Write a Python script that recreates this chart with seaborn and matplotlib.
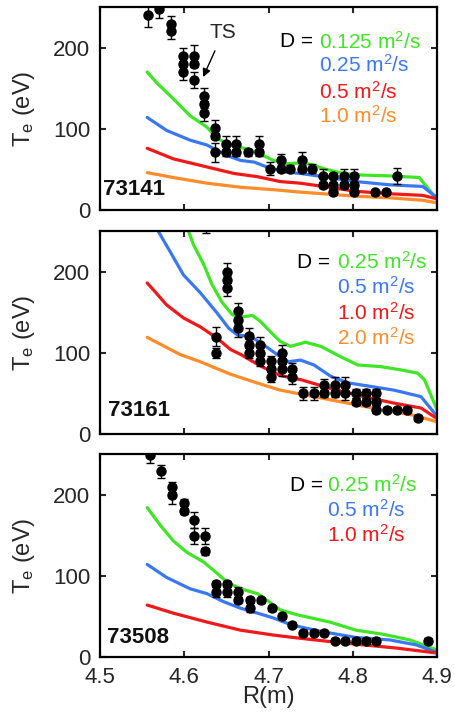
import numpy as np
import pandas as pd
import seaborn as sns
import matplotlib
matplotlib.use("Agg")
import matplotlib.pyplot as plt

sns.set_style("ticks")
plt.rcParams['font.family'] = ['Liberation Sans', 'DejaVu Sans']
plt.rcParams['mathtext.fontset'] = 'custom'
plt.rcParams['mathtext.rm'] = 'Liberation Sans'
plt.rcParams['mathtext.it'] = 'Liberation Sans'

GREEN = '#3fe625'
BLUE = '#3a78f2'
RED = '#f01818'
ORANGE = '#ff8c2a'

# ---------------- Panel 1 : shot 73141 ----------------
shot1 = "73141"
p1_R = [4.557, 4.570, 4.584, 4.584, 4.598, 4.598, 4.598, 4.611, 4.611, 4.611,
        4.624, 4.624, 4.624, 4.637, 4.637, 4.637, 4.650, 4.650, 4.662, 4.662,
        4.676, 4.689, 4.689, 4.702, 4.715, 4.715, 4.726, 4.740, 4.740, 4.752,
        4.765, 4.765, 4.777, 4.777, 4.777, 4.790, 4.790, 4.802, 4.802, 4.802,
        4.827, 4.839, 4.852]
p1_T = [240, 248, 229, 220, 190, 180, 170, 190, 180, 160,
        140, 130, 120, 101, 91, 71, 81, 71, 81, 71,
        71, 81, 71, 51, 61, 51, 51, 61, 51, 51,
        42, 31, 42, 31, 22, 42, 31, 42, 31, 22,
        22, 22, 42]
p1_err = [15, 12, 10, 10, 10, 4, 10, 13, 4, 10,
          10, 4, 10, 10, 4, 12, 10, 4, 10, 4,
          4, 10, 4, 8, 8, 4, 4, 10, 4, 6,
          8, 4, 4, 4, 4, 8, 4, 8, 4, 4,
          3, 3, 10]

p1_curve_R = {
    "0.125": [4.556, 4.567, 4.587, 4.607, 4.627, 4.639, 4.655, 4.679, 4.694, 4.706,
              4.722, 4.738, 4.752, 4.765, 4.789, 4.812, 4.844, 4.879, 4.899],
    "0.25": [4.556, 4.579, 4.607, 4.627, 4.651, 4.667, 4.683, 4.698, 4.718, 4.738,
             4.765, 4.804, 4.844, 4.883, 4.899],
    "0.5": [4.556, 4.587, 4.627, 4.659, 4.687, 4.714, 4.738, 4.765, 4.804, 4.844,
            4.883, 4.899],
    "1.0": [4.556, 4.587, 4.627, 4.667, 4.706, 4.738, 4.765, 4.804, 4.844, 4.883,
            4.899],
}
p1_curve_T = {
    "0.125": [170, 157, 137, 116, 102, 88, 80, 74, 67, 61,
              57, 58, 56, 51, 45, 43, 42, 40, 14],
    "0.25": [114, 98, 86, 80, 67, 61, 59, 53, 47, 45,
             41, 35, 31, 29, 16],
    "0.5": [76, 63, 53, 45, 41, 35, 33, 29, 23, 20,
            18, 14],
    "1.0": [46, 40, 33, 28, 25, 22, 20, 17, 15, 12, 9],
}
p1_labels = ["0.125", "0.25", "0.5", "1.0"]
p1_colors = [GREEN, BLUE, RED, ORANGE]

# ---------------- Panel 2 : shot 73161 ----------------
shot2 = "73161"
p2_R = [4.626, 4.638, 4.638, 4.651, 4.651, 4.651, 4.664, 4.664, 4.664,
        4.677, 4.677, 4.677, 4.690, 4.690, 4.690, 4.703, 4.703, 4.703,
        4.716, 4.716, 4.716, 4.728, 4.728, 4.741, 4.754, 4.766, 4.766,
        4.779, 4.779, 4.791, 4.791, 4.804, 4.804, 4.816, 4.816,
        4.828, 4.828, 4.828, 4.841, 4.853, 4.864, 4.877]
p2_T = [262, 120, 100, 200, 190, 180, 151, 140, 130,
        121, 110, 100, 110, 100, 90, 90, 80, 70,
        100, 90, 80, 80, 70, 50, 50, 60, 50,
        60, 50, 60, 50, 50, 40, 50, 40,
        50, 40, 30, 30, 30, 30, 20]
p2_err = [14, 12, 6, 10, 4, 10, 10, 4, 10,
          10, 4, 6, 10, 4, 6, 6, 4, 6,
          10, 4, 8, 8, 8, 8, 8, 8, 4,
          10, 4, 10, 8, 6, 4, 6, 4,
          6, 4, 4, 3, 3, 3, 4]

p2_curve_R = {
    "0.25": [4.605, 4.611, 4.623, 4.633, 4.645, 4.657, 4.667, 4.681, 4.690, 4.706,
             4.714, 4.726, 4.744, 4.762, 4.786, 4.806, 4.833, 4.857, 4.877, 4.885,
             4.900],
    "0.5": [4.569, 4.583, 4.599, 4.619, 4.639, 4.653, 4.663, 4.679, 4.694, 4.710,
            4.724, 4.738, 4.754, 4.774, 4.794, 4.825, 4.849, 4.881, 4.900],
    "1.0": [4.556, 4.563, 4.579, 4.599, 4.619, 4.639, 4.655, 4.667, 4.690, 4.714,
            4.738, 4.774, 4.813, 4.849, 4.881, 4.900],
    "2.0": [4.556, 4.595, 4.619, 4.654, 4.686, 4.714, 4.754, 4.794, 4.833, 4.873,
            4.900],
}
p2_curve_T = {
    "0.25": [250, 233, 209, 184, 162, 147, 144, 146, 139, 122,
             114, 108, 113, 108, 95, 85, 83, 79, 75, 67,
             30],
    "0.5": [250, 225, 196, 174, 149, 130, 122, 120, 110, 98,
            89, 91, 85, 71, 63, 58, 54, 46, 22],
    "1.0": [186, 178, 159, 143, 132, 118, 104, 98, 84, 72,
            67, 56, 46, 38, 32, 19],
    "2.0": [119, 98, 89, 74, 63, 54, 46, 38, 30, 23,
            15],
}
p2_labels = ["0.25", "0.5", "1.0", "2.0"]
p2_colors = [GREEN, BLUE, RED, ORANGE]

# ---------------- Panel 3 : shot 73508 ----------------
shot3 = "73508"
p3_R = [4.559, 4.572, 4.586, 4.586, 4.600, 4.600, 4.612, 4.612, 4.625, 4.625,
        4.638, 4.638, 4.651, 4.651, 4.664, 4.664, 4.678, 4.678, 4.691, 4.704,
        4.716, 4.728, 4.741, 4.754, 4.766, 4.779, 4.791, 4.804, 4.816, 4.828,
        4.889]
p3_T = [249, 229, 209, 199, 190, 180, 169, 149, 149, 130,
        90, 80, 90, 80, 80, 70, 70, 60, 70, 60,
        50, 40, 30, 30, 30, 20, 20, 20, 20, 20,
        20]
p3_err = [10, 8, 6, 10, 4, 4, 10, 10, 10, 4,
          4, 6, 4, 6, 6, 4, 4, 4, 3, 3,
          3, 3, 3, 3, 3, 3, 3, 3, 3, 3,
          4]

p3_curve_R = {
    "0.25": [4.556, 4.571, 4.587, 4.603, 4.623, 4.639, 4.651, 4.667, 4.687, 4.698,
             4.714, 4.734, 4.773, 4.804, 4.836, 4.868, 4.899],
    "0.5": [4.556, 4.579, 4.607, 4.627, 4.647, 4.667, 4.687, 4.706, 4.726, 4.738,
            4.765, 4.804, 4.844, 4.875, 4.899],
    "1.0": [4.556, 4.587, 4.627, 4.667, 4.706, 4.738, 4.773, 4.812, 4.852, 4.899],
}
p3_curve_T = {
    "0.25": [184, 163, 143, 129, 117, 103, 92, 84, 78, 70,
             58, 52, 43, 33, 28, 21, 9],
    "0.5": [114, 98, 84, 78, 68, 60, 54, 48, 40, 37,
            31, 24, 21, 15, 6],
    "1.0": [64, 54, 43, 33, 27, 23, 19, 15, 11, 5],
}
p3_labels = ["0.25", "0.5", "1.0"]
p3_colors = [GREEN, BLUE, RED]

xticks = [4.5, 4.6, 4.7, 4.8, 4.9]
yticks = [0, 100, 200]

FS = 16
LFS = 15

fig = plt.figure(figsize=(4.56, 7.15), dpi=100)
W = 456.0
H = 715.0
left = 100 / W
width = 337 / W
panel_px = [(7, 210), (231, 434), (454, 657)]
axes = []
for top, bot in panel_px:
    ax = fig.add_axes([left, 1 - bot / H, width, (bot - top) / H])
    axes.append(ax)

panels = [
    (shot1, p1_R, p1_T, p1_err, p1_curve_R, p1_curve_T, p1_labels, p1_colors,
     (0.632, 0.650, [0.828, 0.714, 0.581, 0.463]), (0.01, 0.10)),
    (shot2, p2_R, p2_T, p2_err, p2_curve_R, p2_curve_T, p2_labels, p2_colors,
     (0.682, 0.703, [0.847, 0.724, 0.596, 0.473]), (0.024, 0.118)),
    (shot3, p3_R, p3_T, p3_err, p3_curve_R, p3_curve_T, p3_labels, p3_colors,
     (0.662, 0.674, [0.847, 0.724, 0.601]), (0.02, 0.094)),
]

for i, (ax, pan) in enumerate(zip(axes, panels)):
    shot, R, T, err, cR, cT, labs, cols, leg, shotpos = pan
    rows = []
    for lab in labs:
        for r, t in zip(cR[lab], cT[lab]):
            rows.append({"R": r, "T": t, "D": lab})
    df = pd.DataFrame(rows)
    sns.lineplot(data=df, x="R", y="T", hue="D", palette=dict(zip(labs, cols)),
                 sort=False, estimator=None, linewidth=2.3, legend=False, ax=ax)
    ax.errorbar(R, T, yerr=err, fmt='o', color='black', ms=6.5, elinewidth=1.0,
                capsize=3.0, capthick=1.0, zorder=5)
    ax.set_xlim(4.5, 4.9)
    ax.set_ylim(0, 250)
    ax.set_xticks(xticks)
    ax.set_yticks(yticks)
    ax.tick_params(direction='in', top=True, right=True, length=4.5, width=1.5,
                   labelsize=FS)
    ax.tick_params(axis='y', pad=7)
    ax.tick_params(axis='x', pad=7)
    for sp in ax.spines.values():
        sp.set_linewidth(1.6)
        sp.set_color('black')
        sp.set_visible(True)
    ax.set_ylabel(r"T$_\mathregular{e}$ (eV)", fontsize=FS + 1)
    ax.yaxis.set_label_coords(-0.187, 0.5)
    if i < 2:
        ax.set_xticklabels([])
        ax.set_xlabel("")
    else:
        ax.set_xticklabels([f"{v:.1f}" for v in xticks])
        ax.set_xlabel("R(m)", fontsize=FS + 1)
        ax.xaxis.set_label_coords(0.5, -0.145)
    dx, lx, ys = leg
    ax.text(dx, ys[0], "D =", transform=ax.transAxes, ha='right', va='center',
            fontsize=LFS, color='black')
    for lab, c, y in zip(labs, cols, ys):
        ax.text(lx, y, lab + r" m$^\mathregular{2}$/s", transform=ax.transAxes,
                ha='left', va='center', fontsize=LFS, color=c)
    ax.text(shotpos[0], shotpos[1], shot, transform=ax.transAxes, ha='left',
            va='center', fontsize=FS, fontweight='bold', color='#111111')

axes[0].annotate("TS", xy=(0.306, 0.655), xytext=(0.365, 0.872),
                 xycoords='axes fraction', textcoords='axes fraction',
                 ha='center', va='center', fontsize=FS - 1,
                 arrowprops=dict(arrowstyle='-|>', color='black', lw=1.0,
                                 mutation_scale=12, shrinkA=4, shrinkB=0))

fig.savefig("out.png", dpi=100)
